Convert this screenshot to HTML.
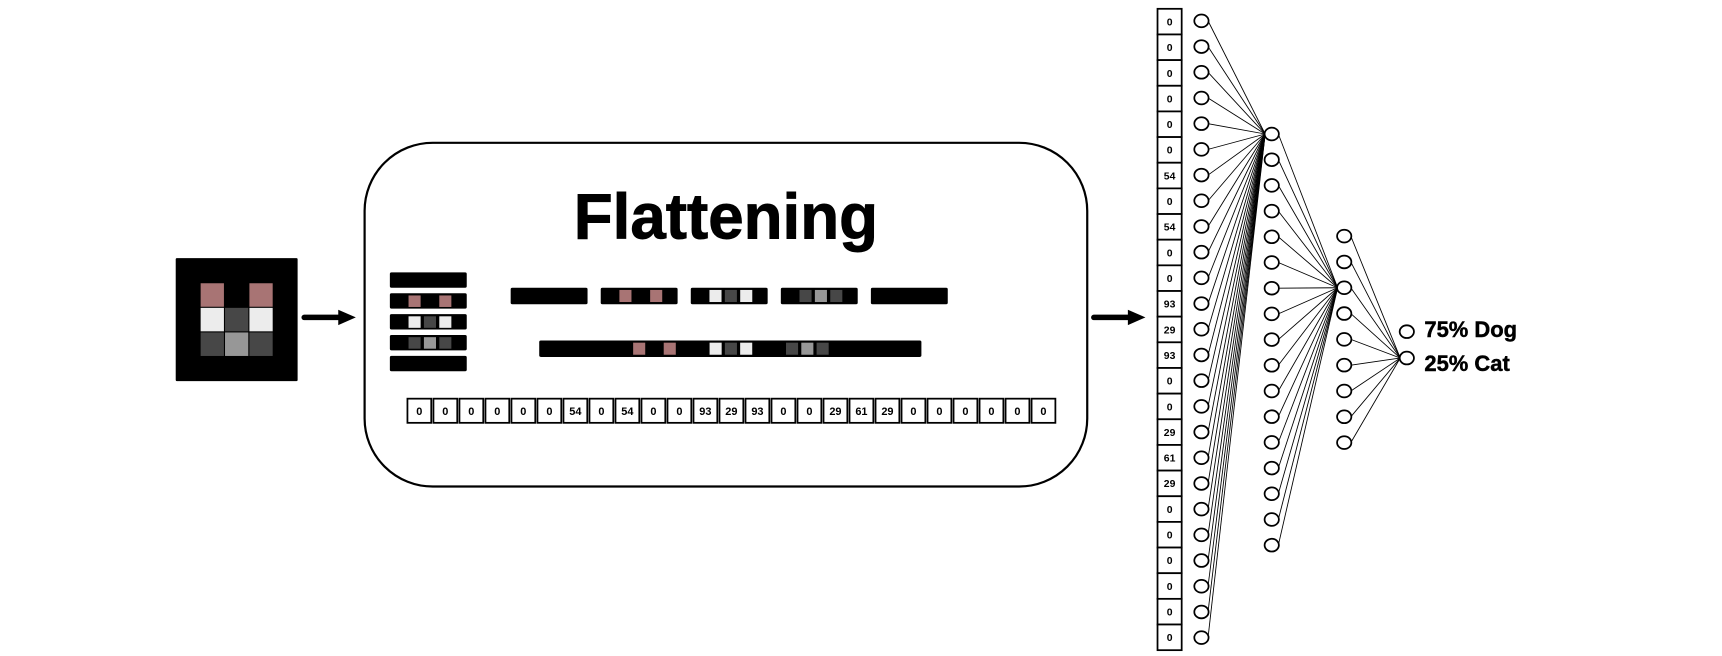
<!DOCTYPE html>
<html><head><meta charset="utf-8"><style>
html,body{margin:0;padding:0;background:#fff;}
svg{display:block;}
text{font-family:"Liberation Sans",Arial,sans-serif;font-weight:bold;}
</style></head><body>
<svg id="s" width="1722" height="656" viewBox="0 0 1568 597.3" xmlns="http://www.w3.org/2000/svg">
<rect x="332" y="130" width="658" height="313" rx="62" fill="#fff" stroke="#000" stroke-width="2"/>
<text x="661" y="217" font-size="58" text-anchor="middle" stroke="#000" stroke-width="0.8">Flattening</text>
<line x1="277" y1="289" x2="312" y2="289" stroke="#000" stroke-width="5" stroke-linecap="round"/>
<path d="M308,282 L324,289 L308,296z" fill="#000"/>
<line x1="996" y1="289" x2="1031" y2="289" stroke="#000" stroke-width="5" stroke-linecap="round"/>
<path d="M1027,282 L1043,289 L1027,296z" fill="#000"/>
<g id="g"></g>
<text x="1297" y="307" font-size="20" stroke="#000" stroke-width="0.4">75% Dog</text>
<text x="1297" y="338" font-size="20" stroke="#000" stroke-width="0.4">25% Cat</text>
</svg>
<script>
var g=document.getElementById('g'),h='';
function R(x,y,w,hh,f,extra){h+='<rect x="'+x+'" y="'+y+'" width="'+w+'" height="'+hh+'" fill="'+f+'" '+(extra||'')+'/>';}
var P='#a87474',L='#ececec',D='#474747',G='#979797';
var grid=[[0,0,0,0,0],[0,P,0,P,0],[0,L,D,L,0],[0,D,G,D,0],[0,0,0,0,0]];
R(160,235,111,112,'#000','rx="1"');
for(var r=0;r<5;r++)for(var c=0;c<5;c++)if(grid[r][c])R(160+c*22.2+0.5,235+r*22.4+0.5,21.2,21.4,grid[r][c]);
var ry=[248,267,286,305,324];
for(var r=0;r<5;r++){R(355,ry[r],70,14,'#000','rx="1.5"');for(var c=0;c<5;c++)if(grid[r][c])R(355+c*14+3,ry[r]+2,11,10.5,grid[r][c]);}
var sx=[465,547,629,711,793];
for(var r=0;r<5;r++){R(sx[r],262,70,15,'#000','rx="1.5"');for(var c=0;c<5;c++)if(grid[r][c])R(sx[r]+c*14+3,264,11,11,grid[r][c]);}
R(491,310,348,15,'#000','rx="1.5"');
for(var r=0;r<5;r++)for(var c=0;c<5;c++)if(grid[r][c])R(491+(r*5+c)*13.92+2,312,11,11,grid[r][c]);
var v=[0,0,0,0,0,0,54,0,54,0,0,93,29,93,0,0,29,61,29,0,0,0,0,0,0];
var cw=(962-370)/25;
for(var i=0;i<25;i++){var x=370+i*cw;R(x+1,363,cw-2,22,'#fff','stroke="#000" stroke-width="1.6"');h+='<text x="'+(x+cw/2)+'" y="378" font-size="10" text-anchor="middle">'+v[i]+'</text>';}
var ch=(592-8)/25;
for(var i=0;i<25;i++){var y=8+i*ch;R(1054,y,22,ch,'#fff','stroke="#000" stroke-width="1.6"');h+='<text x="1065" y="'+(y+ch/2+3.5)+'" font-size="9.5" text-anchor="middle">'+v[i]+'</text>';}
var l1=[],l2=[],l3=[],o=[[1281,302],[1281,326]];
for(var i=0;i<25;i++)l1.push([1094,19+i*23.4]);
for(var i=0;i<17;i++)l2.push([1158,122+i*23.4]);
for(var i=0;i<9;i++)l3.push([1224,215+i*23.5]);
function ln(a,b){h+='<line x1="'+(a[0]+6)+'" y1="'+a[1]+'" x2="'+(b[0]-6)+'" y2="'+b[1]+'" stroke="#000" stroke-width="0.8"/>';}
l1.forEach(function(p){ln(p,l2[0]);});
l2.forEach(function(p){ln(p,l3[2]);});
l3.forEach(function(p){ln(p,o[1]);});
function cir(p){h+='<ellipse cx="'+p[0]+'" cy="'+p[1]+'" rx="6.5" ry="5.8" fill="#fff" stroke="#000" stroke-width="1.6"/>';}
l1.forEach(cir);l2.forEach(cir);l3.forEach(cir);o.forEach(cir);
g.innerHTML=h;
</script>
</body></html>
